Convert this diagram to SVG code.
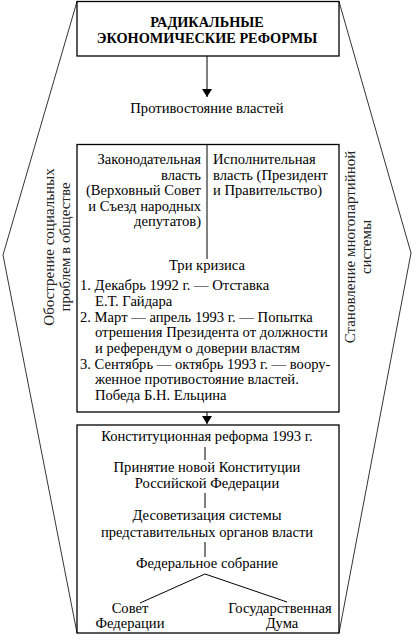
<svg xmlns="http://www.w3.org/2000/svg" width="416" height="644" viewBox="0 0 416 644">
<style>
text{font-family:'Liberation Serif','DejaVu Serif',serif;font-size:14.6px;fill:#000}
.b{font-weight:bold;font-size:14.3px}
.c{text-anchor:middle}
.r{text-anchor:end}
.box{fill:none;stroke:#000;stroke-width:1.3}
.ln{fill:none;stroke:#000;stroke-width:1}
.out{fill:none;stroke:#000;stroke-width:0.8}
.rot{fill:#222;font-size:15px}
</style>
<defs>
<marker id="ah" viewBox="0 0 8 10" refX="8" refY="5" markerWidth="8" markerHeight="10" markerUnits="userSpaceOnUse" orient="auto-start-reverse">
<path d="M0,0 L8,5 L0,10 Z" fill="#000"/>
</marker>
</defs>
<g id="outline">
<polyline class="out" points="77,1.5 3,255 77,633"/>
<polyline class="out" points="339,1.5 411,253 339,633"/>
</g>
<g id="left-side">
<text class="c rot" transform="translate(54,247) rotate(-90)">Обострение социальных</text>
<text class="c rot" transform="translate(70,247) rotate(-90)">проблем в обществе</text>
</g>
<g id="right-side">
<text class="c rot" transform="translate(355,247) rotate(-90)">Становление многопартийной</text>
<text class="c rot" transform="translate(371,247) rotate(-90)">системы</text>
</g>
<g id="reforms">
<rect class="box" x="77" y="1.5" width="262" height="54.5"/>
<text class="b c" x="207" y="27">РАДИКАЛЬНЫЕ</text>
<text class="b c" x="207" y="43">ЭКОНОМИЧЕСКИЕ РЕФОРМЫ</text>
</g>
<g id="confrontation">
<text class="c" x="207" y="113">Противостояние властей</text>
</g>
<g id="crisis">
<rect class="box" x="77" y="144.5" width="262" height="267.5"/>
<text class="r" x="201" y="164">Законодательная</text>
<text class="r" x="201" y="179.5">власть</text>
<text class="r" x="201" y="195">(Верховный Совет</text>
<text class="r" x="201" y="210.5">и Съезд народных</text>
<text class="r" x="201" y="226">депутатов)</text>
<text x="213" y="164">Исполнительная</text>
<text x="213" y="179.5">власть (Президент</text>
<text x="213" y="195">и Правительство)</text>
<text class="c" x="207" y="270">Три кризиса</text>
<text x="80" y="290">1. Декабрь 1992 г. — Отставка</text>
<text x="95" y="305.5">Е.Т. Гайдара</text>
<text x="80" y="321.5">2. Март — апрель 1993 г. — Попытка</text>
<text x="95" y="337">отрешения Президента от должности</text>
<text x="95" y="352.5">и референдум о доверии властям</text>
<text x="80" y="368.5">3. Сентябрь — октябрь 1993 г. — воору-</text>
<text x="95" y="384">женное противостояние властей.</text>
<text x="95" y="399.5">Победа Б.Н. Ельцина</text>
</g>
<g id="reform1993">
<rect class="box" x="77" y="425" width="262" height="208"/>
<text class="c" x="207" y="441">Конституционная реформа 1993 г.</text>
<text class="c" x="207" y="472">Принятие новой Конституции</text>
<text class="c" x="207" y="488">Российской Федерации</text>
<text class="c" x="207" y="520">Десоветизация системы</text>
<text class="c" x="207" y="537">представительных органов власти</text>
<text class="c" x="207" y="568">Федеральное собрание</text>
<text class="c" x="130" y="613">Совет</text>
<text class="c" x="130" y="628">Федерации</text>
<text class="c" x="280" y="613">Государственная</text>
<text class="c" x="282" y="628">Дума</text>
</g>
<g id="connectors">
<line class="ln" x1="207" y1="56" x2="207" y2="97" marker-end="url(#ah)"/>
<line class="ln" x1="207" y1="144.5" x2="207" y2="259"/>
<line class="ln" x1="207" y1="412" x2="207" y2="424" marker-end="url(#ah)"/>
<line class="ln" x1="205" y1="447" x2="205" y2="460"/>
<line class="ln" x1="205" y1="493" x2="205" y2="508"/>
<line class="ln" x1="205" y1="542" x2="205" y2="557"/>
<polyline class="ln" points="140,603 205,574 287,602"/>
</g>
</svg>
